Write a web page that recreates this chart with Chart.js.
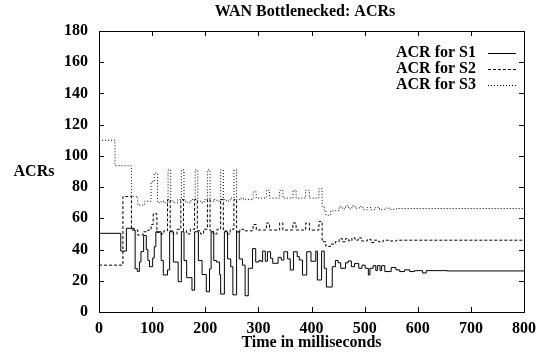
<!DOCTYPE html>
<html>
<head>
<meta charset="utf-8">
<script src="https://cdn.jsdelivr.net/npm/chart.js@4/dist/chart.umd.min.js"></script>
<style>
html,body{margin:0;padding:0;background:#fff;}
#c{display:block;}
</style>
</head>
<body>
<canvas id="c" width="543" height="358"></canvas>
<script>
// ---- data (time in ms, ACR value); each value holds until the next time ----
const chartTitle = "WAN Bottlenecked: ACRs";
const xTitle = "Time in milliseconds";
const yTitle = "ACRs";
const seriesNames = ["ACR for S1", "ACR for S2", "ACR for S3"];
const xTicks = [0, 100, 200, 300, 400, 500, 600, 700, 800];
const yTicks = [0, 20, 40, 60, 80, 100, 120, 140, 160, 180];

const s1 = [[0,50.4],[41,39],[51.5,53.6],[66,52.5],[68,27.9],[72,26],[76,32],[79,38.7],[84,49],[89,40],[92,33],[95,29],
  [101,34.6],[104,41.8],[107,51.4],[117,33],[121,23.7],[129,27],[133,51.4],[140,32],[149,19.4],[155,51.4],[160,33],
  [165,22],[175,14],[180,51.4],[187,33],[194,24],[202,13],[208,27.6],[211,51.4],[216,33],[221,32],[227,24],[229,11.5],
  [236,51.4],[242,34],[248,29],[252,11],[259,51.4],[264,34],[270,30],[275,10.4],[281,28],[289,40.6],[295,32],[301,33],
  [305,32.3],[308,39],[313,32.5],[317,38.6],[323,34.4],[327,31.2],[337,35],[343,33.3],[348,38.6],[355,34],[360,26.9],
  [366,38.6],[373,35.5],[377,33.3],[383,23.7],[391,38.6],[399,32.5],[408,39],[411,20.5],[419,39],[424,28],[428,16],
  [439,29],[445,33],[450,31.5],[455,28],[464,31.5],[469,32.7],[475,29],[481,31],[489,28],[495,30],[501,28],[507,23.7],
  [510,28],[516,29.7],[521,26.5],[524,29.7],[529,26.5],[532,29.7],[538,25.9],[550,28.5],[559,27],[566,25.9],[575,27],
  [585,25.9],[594,26.5],[609,25],[616,26.5],[655,26.3],[800,26.3]];

const s2 = [[0,30],[45,74],[61,52.5],[73,49.3],[83,51.4],[92,52.5],[98,56],[102,63],[109,51],[116,50],[122,52],[129,72],
  [134,52],[140,50],[147,53],[154,72],[159,52],[165,50],[172,53],[180,72],[185,52],[191,50],[197,53],[204,72],[209,52],
  [215,50],[222,53],[229,72],[234,52],[240,50],[247,53],[254,72],[259,51],[265,53],[272,52],[290,56],[296,52.5],
  [315,57],[321,52.5],[340,57],[346,52.5],[365,57],[371,52.5],[389,57],[396,52.5],[414,58],[420,45],[427,42],[436,43.5],
  [445,45],[452,47],[458,45],[464,47],[470,45.5],[476,47.5],[482,46],[488,47.5],[494,45.5],[505,46.5],[512,44.5],
  [518,46],[526,45],[535,46],[545,45.5],[560,46],[800,46]];

const s3 = [[0,110],[30,93.7],[61,74],[73,68.5],[86,71],[98,83.5],[104,89],[110,70],[117,71],[123,70],[130,91],[135,71],
  [141,70],[148,72],[155,91],[160,71],[166,70],[173,72],[181,91],[186,71],[192,70],[198,72],[204,91],[209,71],[216,72],
  [222,71],[229,91],[234,72],[240,71],[247,73],[254,91],[259,72],[266,73],[272,72],[290,77],[296,73],[315,78],[321,73],
  [340,78],[346,73],[365,78],[371,73],[389,78],[396,73],[414,79],[420,67.5],[424,65],[427,62],[436,64.7],[445,65],
  [452,67.5],[458,66],[464,68],[470,66],[476,68],[482,66.5],[490,67.5],[497,65.5],[505,67],[512,65.5],[520,67],
  [528,65.5],[537,66.5],[548,65.8],[560,66.3],[800,66.3]];

// ---- styling ----
const FONT = "'Liberation Serif', 'Times New Roman', serif";
const dashes = [[], [3, 2], [1, 2]];
const allSeries = [s1, s2, s3];

const framePlugin = {
  id: 'frame',
  afterDatasetsDraw(chart) {
    const {ctx, chartArea: a, scales: {x, y}} = chart;
    ctx.save();
    ctx.strokeStyle = '#000';
    ctx.lineWidth = 1;
    ctx.setLineDash([]);
    ctx.strokeRect(Math.round(a.left) + 0.5, Math.round(a.top) + 0.5,
                   Math.round(a.right - a.left), Math.round(a.bottom - a.top));
    const tl = 5;
    ctx.beginPath();
    xTicks.forEach(v => {
      const px = Math.round(x.getPixelForValue(v)) + 0.5;
      ctx.moveTo(px, a.bottom); ctx.lineTo(px, a.bottom - tl);
      ctx.moveTo(px, a.top); ctx.lineTo(px, a.top + tl);
    });
    yTicks.forEach(v => {
      const py = Math.round(y.getPixelForValue(v)) + 0.5;
      ctx.moveTo(a.left, py); ctx.lineTo(a.left + tl, py);
      ctx.moveTo(a.right, py); ctx.lineTo(a.right - tl, py);
    });
    ctx.stroke();

    // titles
    ctx.fillStyle = '#000';
    ctx.font = 'bold 16px ' + FONT;
    ctx.textAlign = 'center';
    ctx.textBaseline = 'middle';
    ctx.fillText(chartTitle, 305, 12);
    ctx.fillText(xTitle, (a.left + a.right) / 2, 343);
    ctx.fillText(yTitle, 34, 172);

    // legend
    const rows = [53, 69, 85];
    seriesNames.forEach((name, i) => {
      ctx.textAlign = 'right';
      ctx.fillText(name, 476, rows[i]);
      ctx.beginPath();
      ctx.setLineDash(dashes[i]);
      ctx.moveTo(488, rows[i] + 0.5);
      ctx.lineTo(516, rows[i] + 0.5);
      ctx.stroke();
    });
    ctx.restore();
  }
};

new Chart(document.getElementById('c'), {
  type: 'line',
  data: {
    datasets: allSeries.map((s, i) => ({
      label: seriesNames[i],
      data: s.map(([t, v]) => ({x: t, y: v})),
      stepped: 'before',
      borderColor: '#000',
      borderWidth: 1,
      borderDash: dashes[i],
      pointRadius: 0,
      fill: false,
      tension: 0
    }))
  },
  options: {
    responsive: false,
    animation: false,
    devicePixelRatio: 1,
    layout: {padding: {left: 0, right: 14, top: 31, bottom: 0}},
    plugins: {legend: {display: false}, title: {display: false}, tooltip: {enabled: false}},
    scales: {
      x: {
        type: 'linear', min: 0, max: 800,
        afterBuildTicks: (s) => { s.ticks = xTicks.map(v => ({value: v})); },
        afterFit: (s) => { s.height = 46; },
        grid: {display: false, drawTicks: false},
        border: {display: false},
        ticks: {color: '#000', padding: 7, font: {family: FONT, size: 16, weight: 'bold'}, maxRotation: 0}
      },
      y: {
        type: 'linear', min: 0, max: 180,
        afterBuildTicks: (s) => { s.ticks = yTicks.map(v => ({value: v})); },
        afterFit: (s) => { s.width = 99; },
        grid: {display: false, drawTicks: false},
        border: {display: false},
        ticks: {color: '#000', padding: 11, font: {family: FONT, size: 16, weight: 'bold'}}
      }
    }
  },
  plugins: [framePlugin]
});
</script>
</body>
</html>
